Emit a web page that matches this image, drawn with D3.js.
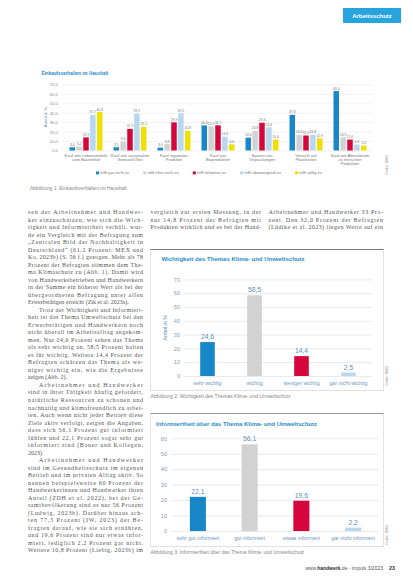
<!DOCTYPE html>
<html><head><meta charset="utf-8">
<script src="https://cdn.jsdelivr.net/npm/d3@7"></script>
<style>body{margin:0;background:#fff}svg{display:block}</style>
</head><body><svg id="c" width="413" height="585"></svg>
<script>
// ---------- Chart 1 data ----------
const topCategories = ["Kauf von Lebensmitteln|vom Bauernhof","Kauf von saisonalem|Gemüse/Obst","Kauf regionaler|Produkte","Kauf von|Bioprodukten","Sparen von|Verpackungen","Verzicht auf|Plastiktüten","Kauf von Alternativen|zu tierischen|Produkten"];
const topSeriesNames = ["trifft gar nicht zu","trifft eher nicht zu","trifft teilweise zu","trifft überwiegend zu","trifft völlig zu"];
const topColors = ["#1787c8","#d2d2d2","#d6053c","#b9d8ef","#f0e000"];
const valsGarNicht   = [3.4, 3.5, 3.0, 26.6, 13.6, 37.8, 63.0];
const valsEherNicht  = [4.2, 9.3, 6.8, 25.5, 20.8, 16.6, 13.9];
const valsTeilweise  = [13.9, 22.9, 29.9, 26.7, 29.4, 15.9, 11.6];
const valsUeberwieg  = [37.7, 39.2, 39.5, 14.6, 24.6, 16.8, 6.3];
const valsVoellig    = [40.8, 25.1, 20.8, 6.6, 11.6, 12.9, 5.2];
const topTicks = [0,10,20,30,40,50,60,70];

// ---------- Chart 2 data ----------
const impCategories = ["sehr wichtig","wichtig","weniger wichtig","gar nicht wichtig"];
const impValues = [24.6, 58.5, 14.4, 2.5];
const impTicks = [0,10,20,30,40,50,60,70];

// ---------- Chart 3 data ----------
const infCategories = ["sehr gut informiert","gut informiert","etwas informiert","gar nicht informiert"];
const infValues = [22.1, 56.1, 19.6, 2.2];
const infTicks = [0,10,20,30,40,50,60];

const barColors4 = ["#1787c8","#d2d2d2","#d6053c","#b9d8ef"];

// ---------- body text ----------
const col1 = [
"sen der Arbeitnehmer und Handwer-",
"ker einzuschätzen, wie sich die Wich-",
"tigkeit und Informiertheit verhält, wur-",
"de ein Vergleich mit der Befragung zum",
"„Zentralen Bild der Nachhaltigkeit in",
"Deutschland“ (61,2 Prozent; MEX und",
"Ko. 2023b) (S. 56 f.) gezogen. Mehr als 78",
"Prozent der Befragten stimmen dem The-",
"ma Klimaschutz zu (Abb. 1). Damit wird",
"von Handwerksbetrieben und Handwerkern",
"in der Summe ein höherer Wert als bei der",
"übergeordneten Befragung unter allen",
"Erwerbstätigen erreicht (Zik et al. 2023a).|",
">Trotz der Wichtigkeit und Informiert-",
"heit ist das Thema Umweltschutz bei den",
"Erwerbstätigen und Handwerkern noch",
"nicht überall im Arbeitsalltag angekom-",
"men. Nur 24,6 Prozent sehen das Thema",
"als sehr wichtig an, 58,5 Prozent halten",
"es für wichtig. Weitere 14,4 Prozent der",
"Befragten schätzen das Thema als we-",
"niger wichtig ein, wie die Ergebnisse",
"zeigen (Abb. 2).|",
">Arbeitnehmer und Handwerker",
"sind in ihrer Tätigkeit häufig gefordert,",
"natürliche Ressourcen zu schonen und",
"nachhaltig und klimafreundlich zu arbei-",
"ten. Auch wenn nicht jeder Betrieb diese",
"Ziele aktiv verfolgt, zeigen die Angaben,",
"dass sich 56,1 Prozent gut informiert",
"fühlen und 22,1 Prozent sogar sehr gut",
"informiert sind (Bauer und Kollegen,",
"2023).|",
">Arbeitnehmer und Handwerker",
"sind im Gesundheitsschutz im eigenen",
"Betrieb und im privaten Alltag aktiv. So",
"nennen beispielsweise 60 Prozent der",
"Handwerkerinnen und Handwerker ihren",
"Anteil (ZDH et al. 2022), bei der Ge-",
"samtbevölkerung sind es nur 56 Prozent",
"(Ludwig, 2023b). Darüber hinaus ach-",
"ten 77,5 Prozent (IW, 2023) der Be-",
"fragten darauf, wie sie sich ernähren,",
"und 19,6 Prozent sind nur etwas infor-",
"miert, lediglich 2,2 Prozent gar nicht.",
"Weitere 10,8 Prozent (Liebig, 2023b) im"
];
const col2 = [
"vergleich zur ersten Messung, in der",
"nur 14,8 Prozent der Befragten mit",
"Produkten wirklich und es bei der Hand-"
];
const col3 = [
"Arbeitnehmer und Handwerker 33 Pro-",
"zent. Den 32,0 Prozent der Befragten",
"(Lüdtke et al. 2023) liegen Werte auf ein"
];

const loc = d3.formatLocale({decimal:",", thousands:".", grouping:[3], currency:["","€"]});
const f1 = loc.format(".1f");
const SANS = "'Liberation Sans', Arial, sans-serif";
const SERIF = "'Liberation Serif', 'DejaVu Serif', serif";
const svg = d3.select("#c");

// ---------- header tab ----------
svg.append("rect").attr("x",343).attr("y",8).attr("width",58).attr("height",15).attr("fill","#27a4dd");
svg.append("text").attr("x",372).attr("y",17.8).attr("text-anchor","middle")
  .attr("font-family",SANS).attr("font-size",6).attr("font-weight","bold").attr("fill","#fff").text("Arbeitsschutz");

// ---------- Chart 1 ----------
const g1 = svg.append("g");
g1.append("text").attr("x",41.5).attr("y",75).attr("font-family",SANS).attr("font-size",4.6)
  .attr("font-weight","bold").attr("fill","#2a8cc6").text("Einkaufsverhalten im Haushalt");
const x0 = d3.scaleBand().domain(topCategories).range([64,372]).paddingInner(0.25).paddingOuter(0.125);
const x1 = d3.scaleBand().domain(topSeriesNames).range([0,x0.bandwidth()]).paddingInner(0.2);
const yT = d3.scaleLinear().domain([0,70]).range([150.5,84.5]);
g1.append("g").attr("transform","translate(63,0)")
  .call(d3.axisLeft(yT).tickValues(topTicks).tickSize(-(372-63)).tickPadding(5).tickFormat(f1))
  .call(g=>g.select(".domain").remove())
  .call(g=>g.selectAll("line").attr("stroke","#e2e2e2").attr("stroke-width",0.5))
  .call(g=>g.selectAll("text").attr("font-family",SANS).attr("font-size",4.3).attr("fill","#8a8a8a"));
g1.append("text").attr("transform","translate(47,117) rotate(-90)").attr("text-anchor","middle")
  .attr("font-family",SANS).attr("font-size",4.3).attr("fill","#6a8fb0").text("Anteil in %");
const topSeriesVals = [valsGarNicht,valsEherNicht,valsTeilweise,valsUeberwieg,valsVoellig];
topSeriesNames.forEach((s,i)=>{
  const gs = g1.append("g");
  gs.selectAll("rect").data(topCategories).join("rect")
    .attr("x",c=>x0(c)+x1(s)).attr("width",x1.bandwidth())
    .attr("y",(c,j)=>yT(topSeriesVals[i][j])).attr("height",(c,j)=>yT(0)-yT(topSeriesVals[i][j]))
    .attr("fill",topColors[i]);
  gs.selectAll("text").data(topCategories).join("text")
    .attr("x",c=>x0(c)+x1(s)+x1.bandwidth()/2).attr("y",(c,j)=>yT(topSeriesVals[i][j])-1.5)
    .attr("text-anchor","middle").attr("font-family",SANS).attr("font-size",3.4).attr("fill","#777")
    .text((c,j)=>f1(topSeriesVals[i][j]));
});
topCategories.forEach(c=>{
  c.split("|").forEach((ln,k)=>{
    g1.append("text").attr("x",x0(c)+x0.bandwidth()/2).attr("y",157+k*4.1).attr("text-anchor","middle")
      .attr("font-family",SANS).attr("font-size",4.1).attr("fill","#777").text(ln);
  });
});
// legend
const leg = g1.append("g");
let lx = 0;
topSeriesNames.forEach((s,i)=>{
  const it = leg.append("g").attr("transform",`translate(${lx},0)`);
  it.append("rect").attr("x",0).attr("y",-2.6).attr("width",3).attr("height",3).attr("fill",topColors[i]);
  const t = it.append("text").attr("x",4.2).attr("y",0.4).attr("font-family",SANS).attr("font-size",4.1).attr("fill","#777").text(s);
  lx += 4.2 + t.node().getComputedTextLength() + 14;
});
leg.attr("transform",`translate(${209-(lx-14)/2},174)`);
svg.append("text").attr("x",30).attr("y",190).attr("font-family",SANS).attr("font-size",5).attr("fill","#888")
  .text("Abbildung 1: Einkaufsverhalten im Haushalt");
svg.append("text").attr("transform","translate(388,165) rotate(-90)").attr("text-anchor","middle")
  .attr("font-family",SANS).attr("font-size",3.6).attr("fill","#999").text("Grafik: BIBB");

// ---------- body text ----------
function column(lines, x0c, x1c, y0, step){
  lines.forEach((raw,i)=>{
    let s = raw, ind = 0, just = true;
    if(s.startsWith(">")){ s = s.slice(1); ind = 11; }
    if(s.endsWith("|")){ s = s.slice(0,-1); just = false; }
    const t = svg.append("text").attr("x",x0c+ind).attr("y",y0+i*step)
      .attr("font-family",SERIF).attr("font-size",6).attr("fill","#555").text(s);
    if(just) t.attr("textLength",x1c-x0c-ind).attr("lengthAdjust","spacing");
  });
}
column(col1, 28, 143, 214, 7.52);
column(col2, 150.5, 261, 214, 7.52);
column(col3, 268.5, 383, 214, 7.52);

// ---------- Charts 2 & 3 ----------
function simpleChart(opt){
  const g = svg.append("g");
  g.append("rect").attr("x",150.5).attr("y",opt.boxTop).attr("width",233).attr("height",opt.boxH)
    .attr("fill","none").attr("stroke","#d4d4d4").attr("stroke-width",0.7);
  g.append("line").attr("x1",150.5).attr("x2",383.5).attr("y1",opt.boxTop).attr("y2",opt.boxTop)
    .attr("stroke",opt.topLine).attr("stroke-width",1);
  g.append("text").attr("x",opt.titleX).attr("y",opt.titleY).attr("font-family",SANS).attr("font-size",6)
    .attr("font-weight","bold").attr("fill","#2a8cc6").text(opt.title);
  const x = d3.scaleBand().domain(opt.cats).range([opt.xl,opt.xr]).paddingInner(0.69).paddingOuter(0.345);
  const y = d3.scaleLinear().domain([0,opt.max]).range([opt.y0,opt.yTop]);
  g.append("g").attr("transform",`translate(${opt.xl},0)`)
    .call(d3.axisLeft(y).tickValues(opt.ticks).tickSize(-(opt.xr-opt.xl)).tickPadding(opt.pad).tickFormat(d3.format("d")))
    .call(a=>a.select(".domain").remove())
    .call(a=>a.selectAll("line").attr("stroke","#dadada").attr("stroke-width",0.6))
    .call(a=>a.selectAll("text").attr("font-family",SANS).attr("font-size",5.6).attr("fill","#7f9db6"));
  if(opt.axisTitle) g.append("text").attr("transform",`translate(${opt.axisTitleX},${(opt.y0+opt.yTop)/2}) rotate(-90)`)
    .attr("text-anchor","middle").attr("font-family",SANS).attr("font-size",5.4).attr("fill","#4e8fc0").text(opt.axisTitle);
  g.selectAll(".bar").data(opt.cats).join("rect").attr("class","bar")
    .attr("x",c=>x(c)).attr("width",x.bandwidth())
    .attr("y",(c,i)=>y(opt.vals[i])).attr("height",(c,i)=>y(0)-y(opt.vals[i]))
    .attr("fill",(c,i)=>barColors4[i]);
  g.selectAll(".vl").data(opt.cats).join("text").attr("class","vl")
    .attr("x",c=>x(c)+x.bandwidth()/2).attr("y",(c,i)=>y(opt.vals[i])-3)
    .attr("text-anchor","middle").attr("font-family",SANS).attr("font-size",6.8).attr("fill","#5e92bd")
    .text((c,i)=>f1(opt.vals[i]));
  g.selectAll(".cl").data(opt.cats).join("text").attr("class","cl")
    .attr("x",c=>x(c)+x.bandwidth()/2).attr("y",opt.y0+8.5)
    .attr("text-anchor","middle").attr("font-family",SANS).attr("font-size",5.3).attr("fill","#6d98bf").text(c=>c);
  svg.append("text").attr("x",150.5).attr("y",opt.capY).attr("font-family",SANS).attr("font-size",5).attr("fill","#888").text(opt.caption);
  svg.append("text").attr("transform",`translate(388,${opt.srcY}) rotate(-90)`).attr("text-anchor","middle")
    .attr("font-family",SANS).attr("font-size",3.6).attr("fill","#999").text("Grafik: BIBB");
}
simpleChart({boxTop:249.5, boxH:141, topLine:"#777", title:"Wichtigkeit des Themas Klima- und Umweltschutz",
  titleX:161.5, titleY:261, cats:impCategories, vals:impValues, max:70, ticks:impTicks,
  xl:184, xr:372, y0:376, yTop:279.4, pad:4, axisTitle:"Anteil in %", axisTitleX:167,
  caption:"Abbildung 2: Wichtigkeit des Themas Klima- und Umweltschutz", capY:398, srcY:376});
simpleChart({boxTop:413.5, boxH:133, topLine:"#999", title:"Informiertheit über das Thema Klima- und Umweltschutz",
  titleX:156, titleY:426, cats:infCategories, vals:infValues, max:60, ticks:infTicks,
  xl:172, xr:379, y0:531, yTop:438.3, pad:5, axisTitle:null,
  caption:"Abbildung 3: Informiertheit über das Thema Klima- und Umweltschutz", capY:554, srcY:535});

// ---------- footer ----------
const ft = svg.append("text").attr("x",383).attr("y",569.5).attr("text-anchor","end")
  .attr("font-family",SANS).attr("font-size",5).attr("fill","#555");
ft.append("tspan").text("www.");
ft.append("tspan").attr("font-weight","bold").attr("fill","#333").text("handwerk");
ft.append("tspan").text(".de · impuls 3/2023");
svg.append("text").attr("x",389).attr("y",569.5).attr("font-family",SANS).attr("font-size",5.4)
  .attr("font-weight","bold").attr("fill","#333").text("23");
</script></body></html>
